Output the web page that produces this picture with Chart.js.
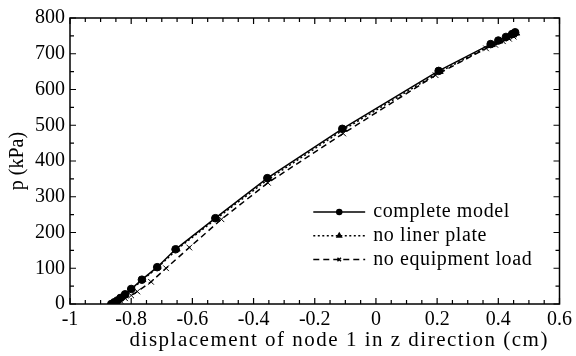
<!DOCTYPE html>
<html>
<head>
<meta charset="utf-8">
<script src="https://cdn.jsdelivr.net/npm/chart.js@4"></script>
<style>
  html, body { margin: 0; padding: 0; background: #fff; }
  #wrap { width: 576px; height: 356px; }
</style>
</head>
<body>
<div id="wrap"><canvas id="grafico"></canvas></div>
<script>
// complete model
const completoX = [-0.865, -0.855, -0.845, -0.835, -0.82, -0.80, -0.765, -0.715, -0.655, -0.525, -0.355, -0.11, 0.205, 0.375, 0.40, 0.425, 0.445, 0.455];
const completoP = [0, 5, 10, 17, 27, 42, 68, 103, 153, 240, 352, 490, 652, 727, 737, 747, 755, 760];

// no liner plate
const semPlacaX = [-0.862, -0.852, -0.842, -0.832, -0.817, -0.797, -0.762, -0.712, -0.65, -0.52, -0.35, -0.105, 0.21, 0.38, 0.405, 0.43, 0.45, 0.46];
const semPlacaP = [0, 5, 10, 17, 27, 42, 68, 103, 153, 240, 350, 488, 650, 725, 735, 745, 752, 757];

// no equipment load
const semCargaX = [-0.855, -0.845, -0.835, -0.82, -0.80, -0.78, -0.735, -0.686, -0.61, -0.505, -0.353, -0.107, 0.195, 0.36, 0.39, 0.415, 0.435, 0.45];
const semCargaP = [0, 4, 9, 16, 24, 35, 62, 100, 158, 237, 339, 477, 640, 715, 725, 735, 742, 748];

const xTicks = [-1, -0.8, -0.6, -0.4, -0.2, 0, 0.2, 0.4, 0.6];
const yTicks = [0, 100, 200, 300, 400, 500, 600, 700, 800];

const nomes = ['complete model', 'no liner plate', 'no equipment load'];
const tituloX = 'displacement of node 1 in z direction (cm)';

const fonte = "'Liberation Serif', 'Times New Roman', serif";

function pontos(xs, ys) {
  return xs.map((x, i) => ({ x, y: ys[i] }));
}

// ticks pointing inward on all four sides + frame
const ticksInternos = {
  id: 'ticksInternos',
  afterDraw(chart) {
    const { ctx, chartArea: a, scales } = chart;
    ctx.save();
    ctx.strokeStyle = '#000';
    ctx.lineWidth = 1.5;
    ctx.strokeRect(a.left, a.top, a.right - a.left, a.bottom - a.top);
    ctx.lineWidth = 1.2;
    for (let i = 0; i <= 32; i++) {
      const v = -1 + i * 0.05;
      const px = scales.x.getPixelForValue(v);
      const len = i % 4 === 0 ? 6 : 4;
      ctx.beginPath();
      ctx.moveTo(px, a.bottom); ctx.lineTo(px, a.bottom - len);
      ctx.moveTo(px, a.top); ctx.lineTo(px, a.top + len);
      ctx.stroke();
    }
    for (let v = 0; v <= 800; v += 50) {
      const py = scales.y.getPixelForValue(v);
      const len = v % 100 === 0 ? 6 : 4;
      ctx.beginPath();
      ctx.moveTo(a.left, py); ctx.lineTo(a.left + len, py);
      ctx.moveTo(a.right, py); ctx.lineTo(a.right - len, py);
      ctx.stroke();
    }
    // x axis title, sits a little right of centre in the original
    ctx.fillStyle = '#000';
    ctx.font = '21px ' + fonte;
    ctx.letterSpacing = '1.5px';
    ctx.textAlign = 'center';
    ctx.textBaseline = 'alphabetic';
    const cx = scales.x.getPixelForValue(-0.12);
    ctx.fillText(tituloX, cx, chart.height - 10);
    ctx.restore();
  }
};

// legend drawn inside the plot
const legenda = {
  id: 'legenda',
  afterDraw(chart) {
    const { ctx, chartArea: a } = chart;
    const x0 = a.left + (a.right - a.left) * 0.497;
    const x1 = a.left + (a.right - a.left) * 0.603;
    const y0 = a.top + (a.bottom - a.top) * 0.678;
    const passo = 23.8;
    ctx.save();
    chart.data.datasets.forEach((ds, i) => {
      const y = y0 + i * passo;
      ctx.strokeStyle = '#000';
      ctx.fillStyle = '#000';
      ctx.lineWidth = ds.borderWidth;
      ctx.setLineDash(ds.borderDash || []);
      ctx.beginPath();
      ctx.moveTo(x0, y); ctx.lineTo(x1, y);
      ctx.stroke();
      ctx.setLineDash([]);
      Chart.helpers.drawPoint(ctx, {
        pointStyle: ds.pointStyle,
        radius: 2.5,
        rotation: 0,
        borderWidth: 1
      }, (x0 + x1) / 2, y);
      ctx.font = '20px ' + fonte;
      ctx.letterSpacing = '0.6px';
      ctx.textBaseline = 'middle';
      ctx.textAlign = 'left';
      ctx.fillText(ds.label, x1 + 8, y);
    });
    ctx.restore();
  }
};

const chart = new Chart(document.getElementById('grafico'), {
  type: 'scatter',
  data: {
    datasets: [
      {
        label: nomes[0],
        data: pontos(completoX, completoP),
        showLine: true,
        borderColor: '#000',
        backgroundColor: '#000',
        borderWidth: 1.5,
        pointStyle: 'circle',
        pointRadius: 3.8,
        pointBorderWidth: 1
      },
      {
        label: nomes[1],
        data: pontos(semPlacaX, semPlacaP),
        showLine: true,
        borderColor: '#000',
        backgroundColor: '#000',
        borderWidth: 1.5,
        borderDash: [2, 2.5],
        pointStyle: 'triangle',
        pointRadius: 3.5,
        pointBorderWidth: 1
      },
      {
        label: nomes[2],
        data: pontos(semCargaX, semCargaP),
        showLine: true,
        borderColor: '#000',
        backgroundColor: '#000',
        borderWidth: 1.5,
        borderDash: [6, 4],
        pointStyle: 'crossRot',
        pointRadius: 4,
        pointBorderWidth: 1
      }
    ]
  },
  options: {
    responsive: true,
    maintainAspectRatio: false,
    animation: false,
    layout: { padding: { left: 6, right: 13, top: 18, bottom: 4 } },
    plugins: {
      legend: { display: false },
      tooltip: { enabled: false }
    },
    scales: {
      x: {
        type: 'linear',
        min: -1,
        max: 0.6,
        afterBuildTicks: s => { s.ticks = xTicks.map(v => ({ value: v })); },
        afterFit: s => { s.height = 48; },
        grid: { display: false, drawTicks: false },
        border: { display: false },
        ticks: {
          color: '#000',
          padding: 4,
          maxRotation: 0,
          font: { family: fonte, size: 20 },
          callback: v => String(Number(v.toFixed(1)))
        },
        title: { display: false }
      },
      y: {
        type: 'linear',
        min: 0,
        max: 800,
        afterBuildTicks: s => { s.ticks = yTicks.map(v => ({ value: v })); },
        afterFit: s => { s.width = 64; },
        grid: { display: false, drawTicks: false },
        border: { display: false },
        ticks: {
          color: '#000',
          padding: 5,
          font: { family: fonte, size: 20 }
        },
        title: {
          display: true,
          text: 'p (kPa)',
          color: '#000',
          padding: { top: 0, bottom: 0 },
          font: { family: fonte, size: 20 }
        }
      }
    }
  },
  plugins: [ticksInternos, legenda]
});
</script>
</body>
</html>
